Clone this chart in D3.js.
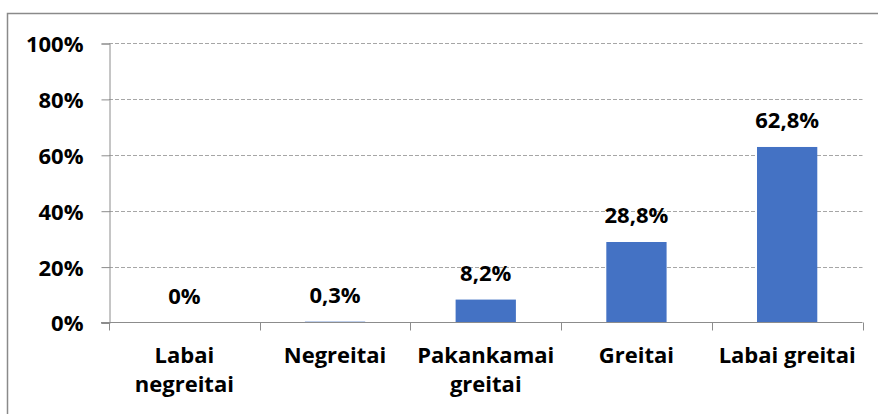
<!DOCTYPE html>
<html>
<head>
<meta charset="utf-8">
<script src="https://cdn.jsdelivr.net/npm/d3@7"></script>
<style>
  body { margin: 0; background: #fff; }
  svg text { font-family: "Open Sans", Lato, sans-serif; font-weight: bold; fill: #000; }
</style>
</head>
<body>
<div id="chart"></div>
<script>
// chart data
const categories = ["Labai negreitai", "Negreitai", "Pakankamai greitai", "Greitai", "Labai greitai"];
const catLines = [["Labai", "negreitai"], ["Negreitai"], ["Pakankamai", "greitai"], ["Greitai"], ["Labai greitai"]];
const values = [0, 0.3, 8.2, 28.8, 62.8];
const valueLabels = ["0%", "0,3%", "8,2%", "28,8%", "62,8%"];
const yTicks = [0, 20, 40, 60, 80, 100];

const w = 878, h = 414;
const plot = {left: 109, right: 862.5, top: 43, bottom: 322.5};

const svg = d3.select("#chart").append("svg")
  .attr("width", w)
  .attr("height", h);

// outer chart border
svg.append("rect")
  .attr("x", 7.5).attr("y", 13.5)
  .attr("width", w + 10).attr("height", h + 10)
  .attr("fill", "none")
  .attr("stroke", "#8a8a8a")
  .attr("stroke-width", 1.5);

const x = d3.scaleBand()
  .domain(categories)
  .range([plot.left, plot.right])
  .paddingInner(0.6)
  .paddingOuter(0.3);

const y = d3.scaleLinear()
  .domain([0, 100])
  .range([plot.bottom, plot.top]);

// gridlines
svg.append("g")
  .selectAll("line")
  .data(yTicks.filter(d => d > 0))
  .enter().append("line")
  .attr("x1", plot.left).attr("x2", plot.right)
  .attr("y1", d => Math.round(y(d)) + 0.5)
  .attr("y2", d => Math.round(y(d)) + 0.5)
  .attr("stroke", "#a6a6a6")
  .attr("stroke-dasharray", "4,2");

// bars
svg.append("g")
  .selectAll("rect")
  .data(values)
  .enter().append("rect")
  .attr("x", (d, i) => x(categories[i]))
  .attr("y", d => y(d))
  .attr("width", x.bandwidth())
  .attr("height", d => plot.bottom - y(d))
  .attr("fill", "#4472c4");

// y axis
const yAxis = d3.axisLeft(y).tickValues(yTicks).tickSize(8).tickFormat(d => d + "%");
const gy = svg.append("g")
  .attr("transform", "translate(" + (plot.left + 0.5) + ",0.5)")
  .call(yAxis);
gy.select(".domain").attr("stroke", "#8c8c8c");
gy.selectAll(".tick line").attr("stroke", "#8c8c8c");
gy.selectAll(".tick text")
  .attr("x", -26)
  .attr("dy", "0.36em")
  .style("font-size", "22px");

// x axis line and separator ticks
const xSep = [0, 1, 2, 3, 4, 5].map(i => plot.left + i * x.step());
svg.append("line")
  .attr("x1", plot.left - 8).attr("x2", plot.right)
  .attr("y1", plot.bottom).attr("y2", plot.bottom)
  .attr("stroke", "#8c8c8c");
svg.append("g")
  .selectAll("line")
  .data(xSep)
  .enter().append("line")
  .attr("x1", d => Math.round(d) + 0.5).attr("x2", d => Math.round(d) + 0.5)
  .attr("y1", plot.bottom).attr("y2", plot.bottom + 8)
  .attr("stroke", "#8c8c8c");

// category labels
svg.append("g")
  .selectAll("text")
  .data(catLines)
  .enter().append("text")
  .attr("text-anchor", "middle")
  .style("font-size", "22px")
  .each(function(lines, i) {
    const cx = x(categories[i]) + x.bandwidth() / 2;
    d3.select(this).selectAll("tspan")
      .data(lines)
      .enter().append("tspan")
      .attr("x", cx)
      .attr("y", (d, j) => 363 + j * 29)
      .text(d => d);
  });

// value labels
svg.append("g")
  .selectAll("text")
  .data(values)
  .enter().append("text")
  .attr("text-anchor", "middle")
  .attr("x", (d, i) => x(categories[i]) + x.bandwidth() / 2)
  .attr("y", d => y(d) - 19)
  .style("font-size", "22px")
  .text((d, i) => valueLabels[i]);
</script>
</body>
</html>
